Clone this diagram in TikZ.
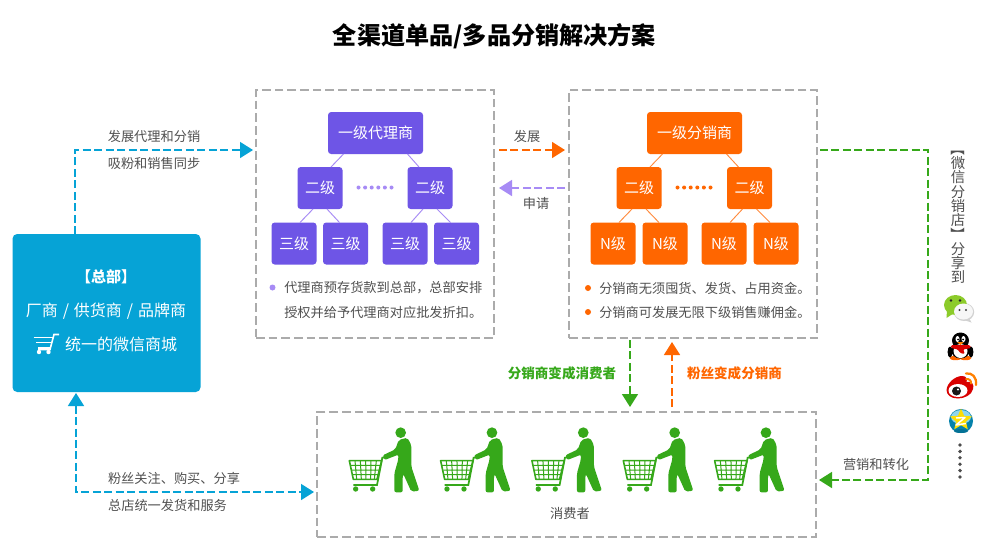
\documentclass[tikz,border=0pt]{standalone}
\usepackage{fontspec}
\setmainfont{Noto Sans CJK SC}
\usetikzlibrary{arrows.meta,calc,shapes.geometric}
\definecolor{ink}{HTML}{505050}
\definecolor{hqblue}{HTML}{06A3D6}
\definecolor{agentviolet}{HTML}{6E55E6}
\definecolor{lavender}{HTML}{A78BF5}
\definecolor{distorange}{HTML}{FF6600}
\definecolor{shopgreen}{HTML}{36A81A}
\definecolor{framegray}{HTML}{ABABAB}
\definecolor{chatlime}{HTML}{8CCB2A}
\tikzset{
  x=0.75pt,y=-0.75pt,
  frame/.style={draw=framegray,line width=1.1pt,dash pattern=on 6.5pt off 3pt,
    minimum width=#1*0.75pt,inner sep=0pt,outer sep=0pt},
  tier/.style={rounded corners=2.4pt,minimum height=42*0.75pt,inner sep=0pt,outer sep=0pt,
    text=white,font=\fontsize{11.25pt}{13pt}\selectfont,minimum width=#1*0.75pt},
  agent/.style={tier=#1,fill=agentviolet},
  dist/.style={tier=#1,fill=distorange},
  note/.style={text=ink,inner sep=0pt,font=\fontsize{9.9pt}{12pt}\selectfont},
  strong/.style={inner sep=0pt,font=\fontsize{10.15pt}{12pt}\selectfont\bfseries},
  flow/.style={line width=1.2pt,dash pattern=on 6pt off 2.6pt,
    -{Triangle[length=9.75pt,width=12pt]}},
  flowboth/.style={line width=1.2pt,dash pattern=on 6pt off 2.6pt,
    {Triangle[length=9.75pt,width=12pt]}-{Triangle[length=9.75pt,width=12pt]}},
  agentlink/.style={draw=lavender,line width=0.7pt},
  distlink/.style={draw=distorange!75,line width=0.7pt},
  shopper/.pic={
    \begin{scope}[scale=1/3]
      % shopping cart
      \draw[shopgreen,line width=1.2pt,line join=round]
        (28,122) -- (125,122) -- (111,178) -- (40,178) -- cycle;
      \draw[shopgreen,line width=1.3pt] (134,112) -- (127,113) -- (111,195) -- (40,195);
      \draw[shopgreen,line width=0.75pt]
        (32,136) -- (121,136) (36,150) -- (118,150) (38,164) -- (115,164)
        (45,122) -- (50,178) (61,122) -- (64,178) (77,122) -- (78,178)
        (93,122) -- (92,178) (109,122) -- (103,178);
      \fill[shopgreen] (47,207) circle (8) (98,207) circle (8);
      % figure pushing it
      \fill[shopgreen] (182,38) circle (16);
      \fill[shopgreen,rounded corners=1.5pt]
        (176,60) -- (202,53) -- (214,75) -- (214,140) -- (238,212) -- (214,215)
        -- (190,162) -- (188,168) -- (188,217) -- (163,217) -- (163,160)
        -- (175,118) -- (175,104) -- (134,120) -- (128,106) -- (166,88) -- cycle;
    \end{scope}
  }
}
\begin{document}
\begin{tikzpicture}
\useasboundingbox (0,0) rectangle (985,544);
\fill[white] (0,0) rectangle (985,544);

% Title
\node[inner sep=0pt,text=black,font=\fontsize{18.1pt}{22pt}\selectfont\bfseries] (title) at (494.5,36)
  {全渠道单品/多品分销解决方案};

% Dashed frames
\node[frame=238,minimum height=248*0.75pt] (agentbox) at (375,214) {};
\node[frame=248,minimum height=248*0.75pt] (distbox) at (693,214) {};
\node[frame=499,minimum height=125*0.75pt] (shopbox) at (566.5,474.5) {};

% Agent tree
\node[agent=95] (a1) at (375.5,133) {一级代理商};
\node[agent=45] (a2l) at (320,188) {二级};
\node[agent=45] (a2r) at (430,188) {二级};
\node[agent=45] (a3a) at (294,243.5) {三级};
\node[agent=45] (a3b) at (345.5,243.5) {三级};
\node[agent=45] (a3c) at (405,243.5) {三级};
\node[agent=45] (a3d) at (456.5,243.5) {三级};
\draw[agentlink] ($(a1.south)+(-32,0)$) -- ($(a2l.north)+(11,0)$);
\draw[agentlink] ($(a1.south)+(32,0)$) -- ($(a2r.north)+(-11,0)$);
\draw[agentlink] ($(a2l.south)+(-7,0)$) -- ($(a3a.north)+(6,0)$);
\draw[agentlink] ($(a2l.south)+(7,0)$) -- ($(a3b.north)+(-6,0)$);
\draw[agentlink] ($(a2r.south)+(-7,0)$) -- ($(a3c.north)+(6,0)$);
\draw[agentlink] ($(a2r.south)+(7,0)$) -- ($(a3d.north)+(-6,0)$);
\foreach \k in {0,...,5} \fill[lavender] (358.5+\k*6.6,187.5) circle (2);

% Distributor tree
\node[dist=95] (d1) at (694.5,133) {一级分销商};
\node[dist=45] (d2l) at (639,188) {二级};
\node[dist=45] (d2r) at (749.5,188) {二级};
\node[dist=45] (d3a) at (613,243.5) {N级};
\node[dist=45] (d3b) at (665,243.5) {N级};
\node[dist=45] (d3c) at (724,243.5) {N级};
\node[dist=45] (d3d) at (776,243.5) {N级};
\draw[distlink] ($(d1.south)+(-32,0)$) -- ($(d2l.north)+(11,0)$);
\draw[distlink] ($(d1.south)+(32,0)$) -- ($(d2r.north)+(-11,0)$);
\draw[distlink] ($(d2l.south)+(-7,0)$) -- ($(d3a.north)+(6,0)$);
\draw[distlink] ($(d2l.south)+(7,0)$) -- ($(d3b.north)+(-6,0)$);
\draw[distlink] ($(d2r.south)+(-7,0)$) -- ($(d3c.north)+(6,0)$);
\draw[distlink] ($(d2r.south)+(7,0)$) -- ($(d3d.north)+(-6,0)$);
\foreach \k in {0,...,5} \fill[distorange] (677.5+\k*6.6,187.5) circle (2);

% Bullet notes
\fill[lavender] (272.5,287.5) circle (3);
\node[note,anchor=west] (agentnote1) at (284,288) {代理商预存货款到总部，总部安排};
\node[note,anchor=west] (agentnote2) at (284,312) {授权并给予代理商对应批发折扣。};
\fill[distorange] (588,288) circle (3) (588,312) circle (3);
\node[note,anchor=west] (distnote1) at (599,288) {分销商无须囤货、发货、占用资金。};
\node[note,anchor=west] (distnote2) at (599,312) {分销商可发展无限下级销售赚佣金。};

% Headquarters block
\node[fill=hqblue,rounded corners=3.5pt,minimum width=188*0.75pt,minimum height=158*0.75pt,
  inner sep=0pt,outer sep=0pt] (hq) at (106.5,313) {};
\node[inner sep=0pt,text=white,font=\fontsize{11.25pt}{13pt}\selectfont\bfseries] (hqtitle) at (106,277) {【总部】};
\node[inner sep=0pt,text=white,font=\fontsize{12pt}{14pt}\selectfont] (hqline) at (106,311) {厂商\kern1pt{} / \kern1pt{}供货商\kern1pt{} / \kern1pt{}品牌商};
\node[inner sep=0pt,text=white,font=\fontsize{12pt}{14pt}\selectfont] (hqshop) at (121,344) {统一的微信商城};
\draw[white,line width=1.1pt] (33.5,337.5) -- (53,337.5) (36,342.5) -- (51.5,342.5) (38,348) -- (50,348);
\draw[white,line width=1.2pt] (59,334.5) -- (54,334.5) -- (50,349.5) -- (38,349.5);
\fill[white] (39,352) circle (2.2) (48.5,352) circle (2.2);

% Connectors and their labels
\draw[flow,hqblue] ($(hq.north)+(-31.5,0)$) |- ($(agentbox.north west)+(-3,60)$);
\node[note] (lb1) at (154,136) {发展代理和分销};
\node[note] (lb2) at (154,163) {吸粉和销售同步};

\draw[flowboth,hqblue] ($(hq.south)+(-30.5,1)$) |- ($(shopbox.west)+(-3,17.5)$);
\node[note] (lb3) at (174,478) {粉丝关注、购买、分享};
\node[note] (lb4) at (167.5,505) {总店统一发货和服务};

\draw[flow,distorange] ($(agentbox.north east)+(5,60)$) -- ($(distbox.north west)+(-4,60)$);
\node[note] (lb5) at (527,136) {发展};
\draw[flow,lavender] ($(distbox.north west)+(-4,98)$) -- ($(agentbox.north east)+(5,98)$);
\node[note] (lb6) at (536,203) {申请};

\draw[flow,shopgreen] ($(distbox.south)+(-63,2)$) -- ($(shopbox.north)+(63.5,-5)$);
\node[strong,text=shopgreen] (lb7) at (562,373) {分销商变成消费者};
\draw[flow,distorange] ($(shopbox.north)+(105.5,-5)$) -- ($(distbox.south)+(-21,4)$);
\node[strong,text=distorange] (lb8) at (734.5,373) {粉丝变成分销商};

\draw[flow,shopgreen] ($(distbox.north east)+(3,60)$) -- ++(108,0) |- ($(shopbox.east)+(3,5.5)$);
\node[note] (lb9) at (876,464) {营销和转化};

% Consumers
\foreach \xo in {340,431.3,522.6,614,705.3} \pic at (\xo,420) {shopper};
\node[note] (consumers) at (570,513) {消费者};

% Vertical share caption
\node[text=ink,align=center,inner sep=0pt,font=\fontsize{10.8pt}{10.7pt}\selectfont] (sharecap) at (958,212.5)
  {\rotatebox[origin=c]{-90}{【}\\微\\信\\分\\销\\店\\\rotatebox[origin=c]{-90}{】}\\分\\享\\到};

% WeChat
\fill[gray!35] (964,312) ellipse (10.2 and 9);
\fill[gray!35] (969,318) -- (971.5,322.5) -- (964,320) -- cycle;
\fill[chatlime] (955.5,305) ellipse (11.5 and 10);
\fill[chatlime] (947,310) -- (946.5,318) -- (954,313) -- cycle;
\fill[black!85] (951,300.5) circle (1.4) (960,300.5) circle (1.4);
\fill[white!97!black] (963.5,311.5) ellipse (9.5 and 8);
\fill[black!75] (959.5,310) circle (1.1) (966,310) circle (1.1);

% QQ penguin
\fill[distorange] (955.5,358) ellipse (6 and 2.2) (965.5,358) ellipse (6 and 2.2);
\fill[black] (960.5,340.5) ellipse (8.5 and 8);
\fill[black] (960.5,350) ellipse (9.5 and 8.5);
\fill[black] (950,352) ellipse (2.4 and 5.5) (971,352) ellipse (2.4 and 5.5);
\fill[white] (960.5,351) ellipse (7 and 7);
\fill[white] (957.5,339) ellipse (2 and 3) (963.5,339) ellipse (2 and 3);
\fill[black] (958,339.5) circle (1) (963,339.5) circle (1);
\fill[orange] (957,342) -- (964,342) -- (960.5,345) -- cycle;
\fill[red!85!black,rounded corners=1pt] (951,345) -- (970,345) -- (971,348) -- (963,349.5) -- (965,354) -- (960,353) -- (958,349.5) -- (951,348) -- cycle;

% Weibo
\fill[red!85!black] (946.5,390) .. controls (947,383) and (955,376) .. (962,376) .. controls (966.5,376) and (967.5,379) .. (966.5,382)
  .. controls (972,380.5) and (974.5,385) .. (973,389) .. controls (972,395) and (964,398.5) .. (958,398.5)
  .. controls (951,398.5) and (946.5,395) .. (946.5,390) -- cycle;
\fill[white] (958,390.5) ellipse (9.5 and 6.5);
\fill[black!90] (956.5,391) circle (4.5);
\fill[white] (958,389.5) circle (1.2);
\draw[orange,line width=1.7pt,line cap=round] (966,373.5) .. controls (972,372.5) and (977,377) .. (976,385);
\draw[orange,line width=1.5pt,line cap=round] (966,379) .. controls (969,378.5) and (971.5,380.5) .. (971,383.5);

% Qzone
\fill[hqblue!80!black] (961,421) circle (12);
\fill[hqblue!45!white] (961,417) ellipse (10 and 7);
\fill[black!30!hqblue] (961,431) ellipse (7 and 2);
\node[star,star points=5,star point ratio=2.2,fill=yellow!80!orange,inner sep=0pt,minimum size=23*0.75pt] (qzstar) at (961,420) {};
\draw[white,line width=1.1pt,line join=round] (956,418) -- (965,417.5) -- (956,425) -- (966,423.5);

% Trailing dots
\foreach \k in {0,...,5} \fill[black!70] (960,445+\k*6.4) circle (1.9);
\end{tikzpicture}
\end{document}
